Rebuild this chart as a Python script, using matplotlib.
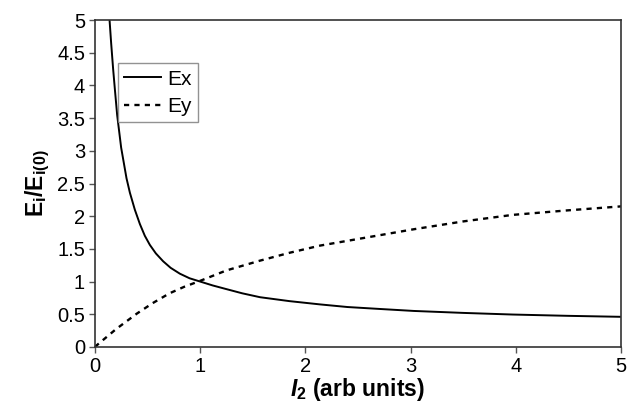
import matplotlib
matplotlib.use("Agg")
import matplotlib.pyplot as plt

plt.rcParams['font.family'] = ['Liberation Sans', 'DejaVu Sans']
plt.rcParams['mathtext.fontset'] = 'custom'
plt.rcParams['mathtext.rm'] = 'Liberation Sans:bold'
plt.rcParams['mathtext.bf'] = 'Liberation Sans:bold'
plt.rcParams['mathtext.it'] = 'Liberation Sans:bold:italic'

# values
ex_x = [0.14, 0.155, 0.174, 0.19, 0.212, 0.25, 0.301, 0.333, 0.38, 0.428, 0.475, 0.523,
        0.58, 0.649, 0.72, 0.808, 0.9, 1.0, 1.12, 1.236, 1.4, 1.57, 1.85, 2.14, 2.4,
        2.71, 3.03, 3.5, 3.97, 4.5, 5.0]
ex_y = [5.0, 4.65, 4.25, 3.95, 3.55, 3.05, 2.58, 2.36, 2.10, 1.88, 1.70, 1.56,
        1.43, 1.31, 1.21, 1.12, 1.05, 1.0, 0.94, 0.89, 0.82, 0.76, 0.70, 0.65, 0.61,
        0.58, 0.55, 0.52, 0.495, 0.475, 0.46]

ey_x = [0.0, 0.2, 0.4, 0.55, 0.71, 0.85, 1.0, 1.25, 1.57, 1.85, 2.14, 2.71, 3.03, 3.5, 3.97, 4.5, 5.0]
ey_y = [0.0, 0.27, 0.51, 0.67, 0.82, 0.92, 1.01, 1.17, 1.32, 1.44, 1.55, 1.71, 1.80, 1.92, 2.02, 2.09, 2.15]

fig = plt.figure(figsize=(6.28, 4.11), dpi=100)
ax = fig.add_axes([0.151, 0.156, 0.838, 0.795])

ax.plot(ex_x, ex_y, color='black', lw=1.4, label='Ex')
ax.plot(ey_x, ey_y, color='black', lw=1.7, linestyle=(0, (2.2, 2.2)), label='Ey')

ax.set_xlim(0, 5)
ax.set_ylim(0, 5)
ax.set_xticks([0, 1, 2, 3, 4, 5])
ax.set_yticks([0, 0.5, 1, 1.5, 2, 2.5, 3, 3.5, 4, 4.5, 5])
ax.set_yticklabels(['0', '0.5', '1', '1.5', '2', '2.5', '3', '3.5', '4', '4.5', '5'])
ax.tick_params(direction='out', length=4, width=1, labelsize=14.5, color='#555555', pad=3)
for s in ax.spines.values():
    s.set_linewidth(1.2)
    s.set_color('#333333')

ax.set_xlabel(r'$I_2$ (arb units)', fontsize=16.5, fontweight='bold', labelpad=0)
ax.set_ylabel(r'$\mathrm{E_i/E_{i(0)}}$', fontsize=16.5, fontweight='bold', labelpad=4)

leg = ax.legend(loc='upper left', bbox_to_anchor=(0.044, 0.868), fontsize=15,
                frameon=True, fancybox=False, borderpad=0.3, handlelength=1.75,
                handletextpad=0.3, labelspacing=0.4, borderaxespad=0)
leg.get_frame().set_edgecolor('#777777')
leg.get_frame().set_linewidth(1.0)

fig.savefig('out.png', dpi=100)
